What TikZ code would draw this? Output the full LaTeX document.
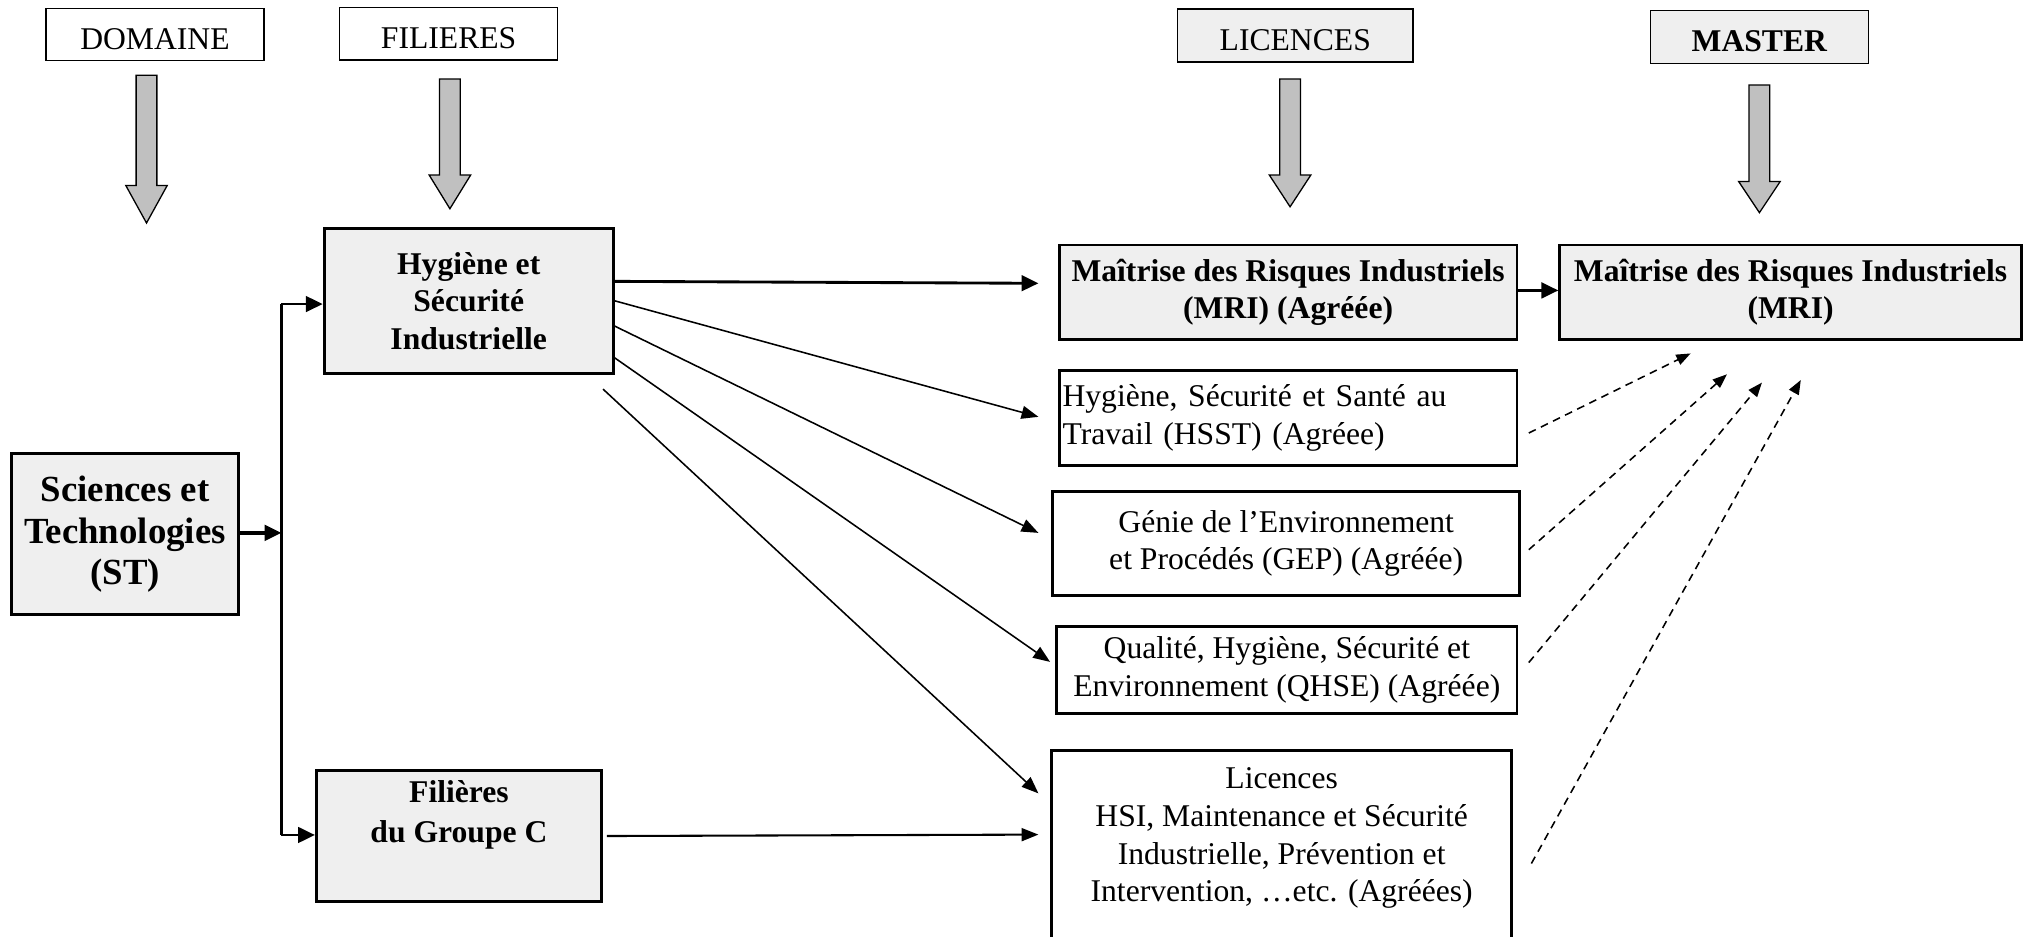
\documentclass[tikz,border=0pt]{standalone}
\usepackage{fontspec}
\setmainfont{Liberation Serif}
\usetikzlibrary{arrows.meta,calc}
\definecolor{boxgray}{HTML}{EFEFEF}
\definecolor{arrgray}{HTML}{C0C0C0}
\newcommand\grayarrow[4]{\draw[garrow] ({#1-8},#2) -- ({#1+8},#2) -- ({#1+8},#3) -- ({#1+16},#3) -- (#1,#4) -- ({#1-16},#3) -- ({#1-8},#3) -- cycle;}
\begin{document}
\begin{tikzpicture}[x=0.5pt,y=-0.5pt,
  every node/.style={font=\fontsize{12.2}{14.5}\selectfont},
  bfont/.style={font=\fontsize{12.2}{14.5}\selectfont\bfseries},
  hdr/.style={draw,line width=0.6pt,inner sep=0pt,text height=11.5pt,text depth=0pt},
  box/.style={draw,line width=1.1pt,fill=boxgray,inner sep=0pt,align=center},
  wbox/.style={draw,line width=1.1pt,fill=white,inner sep=0pt,align=center},
  garrow/.style={draw=black,line width=0.5pt,fill=arrgray,line join=miter},
  ln/.style={line width=0.6pt,-{Triangle[length=6.5pt,width=5pt]}},
  lnthick/.style={line width=1.1pt,-{Triangle[length=6.5pt,width=6pt]}},
  dsh/.style={line width=0.6pt,dash pattern=on 3pt off 2.2pt,-{Triangle[length=5.5pt,width=4.2pt]}}]
\useasboundingbox (0,0) rectangle (1568,722);
\clip (0,0) rectangle (1568,722);

% headers
\node[hdr,minimum width=84pt,minimum height=20.2pt] (dom) at (119.5,26.6) {DOMAINE};
\node[hdr,minimum width=84pt,minimum height=20.3pt] (fil) at (346,26) {FILIERES};
\node[hdr,fill=boxgray,minimum width=91pt,minimum height=20.5pt] (lic) at (999,27.5) {LICENCES};
\node[hdr,fill=boxgray,minimum width=84pt,minimum height=20.5pt] (mas) at (1357,28.5) {\textbf{MASTER}};

% gray block arrows
\grayarrow{113}{58}{143}{172}
\grayarrow{347}{61}{135}{161}
\grayarrow{995}{61}{135}{159.5}
\grayarrow{1357}{65.6}{140}{164}

% boxes
\node[box,font=\fontsize{14.2}{16}\selectfont\bfseries,minimum width=87.5pt,minimum height=62pt] (st) at (96.5,412) {Sciences et\\Technologies\\(ST)};
\node[box,bfont,minimum width=111.5pt,minimum height=56pt] (hsi) at (361.5,232) {Hygiène et\\Sécurité\\Industrielle};
\node[box,minimum width=110pt,minimum height=50.25pt] (grc) at (354,644.8) {};
\node[align=center,font=\fontsize{12.2}{15.5}\selectfont\bfseries] (grct) at (354,628.5) {Filières\\du Groupe C};
\node[box,bfont,minimum width=176.5pt,minimum height=36.5pt] (mri) at (993.5,225.5) {Maîtrise des Risques Industriels\\(MRI) (Agréée)};
\node[box,bfont,minimum width=178pt,minimum height=36.5pt] (mrim) at (1381,225.5) {Maîtrise des Risques Industriels\\(MRI)};
\node[wbox,align=left,inner xsep=1pt,text width=174pt,minimum width=176.5pt,minimum height=36.5pt] (hsst) at (993.5,322.5) {Hygiène, Sécurité et Santé au\\Travail (HSST) (Agréee)};
\node[wbox,minimum width=180pt,minimum height=40pt] (gep) at (992,419) {Génie de l’Environnement\\et Procédés (GEP) (Agréée)};
\node[wbox,minimum width=177.5pt,minimum height=33.5pt] (qhse) at (992.5,516.5) {Qualité, Hygiène, Sécurité et\\Environnement (QHSE) (Agréée)};
\node[wbox,minimum width=177.5pt,minimum height=90.5pt] (licb) at (988.5,669.5) {};
\node[align=center] (licbt) at (988.5,646.5) {Licences\\HSI, Maintenance et Sécurité\\Industrielle, Prévention et\\Intervention, …etc. (Agréées)};

% left connectors
\coordinate (jt) at (217,234.5);
\coordinate (jm) at (217,411);
\coordinate (jb) at (217,644);
\draw[lnthick,line width=1.3pt] (st.east |- jm) -- (jm);
\draw[line width=0.9pt] (jt) -- (jb);
\draw[lnthick] (jt) -- (hsi.west |- jt);
\draw[lnthick] (jb) -- (grc.west |- jb);

% from HSI
\draw[lnthick] ([yshift=7.5pt]hsi.east) -- ([xshift=-7.5pt,yshift=3.5pt]mri.west);
\draw[ln] (hsi.east) -- ([xshift=-7.5pt,yshift=0.5pt]hsst.west);
\draw[ln] ([yshift=-9.75pt]hsi.east) -- ([xshift=-5pt,yshift=4pt]gep.west);
\draw[ln] ([yshift=-22pt]hsi.east) -- ([xshift=-2pt,yshift=3pt]qhse.west);
\draw[ln] ([xshift=-4.5pt,yshift=-5.5pt]hsi.south east) -- ([xshift=-4.5pt,yshift=-17pt]licb.north west);
\draw[ln,line width=0.8pt] ([xshift=1.5pt]grc.east) -- ([xshift=-4.5pt,yshift=-32.9pt]licb.north west);

% MRI to master
\draw[lnthick] ([yshift=0.75pt]mri.east) -- ([yshift=0.75pt]mrim.west);

% dashed
\draw[dsh] ([xshift=4pt,yshift=-5.75pt]hsst.east) -- ([xshift=51pt,yshift=-4.75pt]mrim.south west);
\draw[dsh] ([xshift=3pt,yshift=-2.5pt]gep.east) -- ([xshift=65pt,yshift=-12.8pt]mrim.south west);
\draw[dsh] ([xshift=4pt,yshift=2.75pt]qhse.east) -- ([xshift=78.5pt,yshift=-16pt]mrim.south west);
\draw[dsh] ([xshift=7pt,yshift=1.75pt]licb.east) -- ([xshift=93.5pt,yshift=-15pt]mrim.south west);
\end{tikzpicture}
\end{document}
